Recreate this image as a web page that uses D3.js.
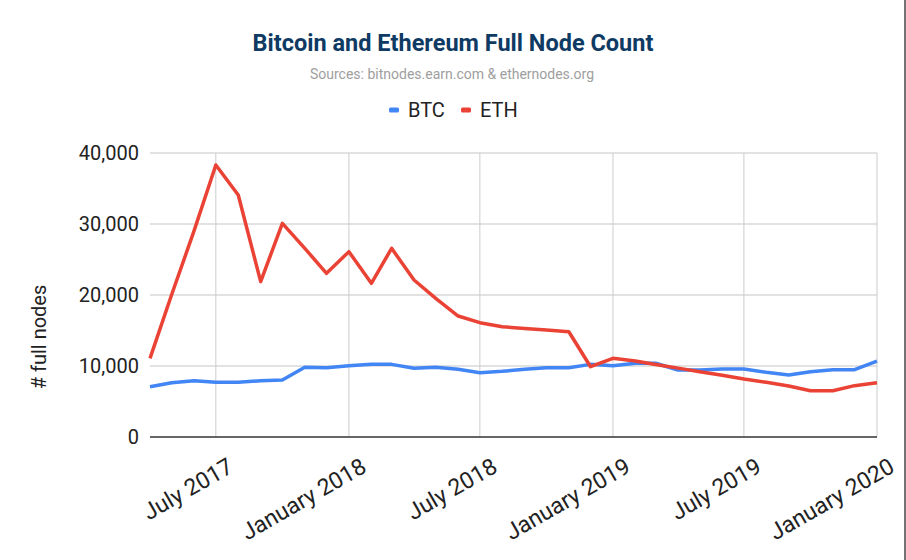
<!DOCTYPE html>
<html>
<head>
<meta charset="utf-8">
<script src="https://cdn.jsdelivr.net/npm/d3@7"></script>
<style>
  body { margin: 0; background: #fff; }
  svg { display: block; font-family: Roboto, "Liberation Sans", Arial, sans-serif; }
</style>
</head>
<body>
<script>
// Monthly snapshots, Apr 2017 - Jan 2020
const months = ["2017-04","2017-05","2017-06","2017-07","2017-08","2017-09","2017-10","2017-11","2017-12",
  "2018-01","2018-02","2018-03","2018-04","2018-05","2018-06","2018-07","2018-08","2018-09","2018-10","2018-11","2018-12",
  "2019-01","2019-02","2019-03","2019-04","2019-05","2019-06","2019-07","2019-08","2019-09","2019-10","2019-11","2019-12",
  "2020-01"];
const btc = [7080,7650,7930,7700,7700,7930,8030,9810,9760,
  10040,10230,10230,9670,9810,9530,9060,9250,9530,9760,9760,10230,
  10040,10380,10380,9440,9440,9580,9580,9110,8730,9200,9480,9480,
  10700];
const eth = [11080,20070,29060,38310,34080,21880,30090,26570,23050,
  26100,21640,26570,22110,19530,17040,16100,15540,15280,15070,14830,9900,
  11080,10700,10200,9700,9200,8700,8170,7700,7180,6520,6520,7230,
  7650];
const tickMonths = ["2017-07","2018-01","2018-07","2019-01","2019-07","2020-01"];
const tickLabels = ["July 2017","January 2018","July 2018","January 2019","July 2019","January 2020"];
const yTicks = [0,10000,20000,30000,40000];
const seriesNames = ["BTC","ETH"];
const seriesColors = ["#4285f4","#ea4335"];

const width = 906, height = 560;
const plot = {left: 150, right: 877, top: 153, bottom: 437};

const parseMonth = d3.timeParse("%Y-%m");
const dates = months.map(parseMonth);

const svg = d3.select("body").append("svg")
    .attr("width", width)
    .attr("height", height);

// Scales
const x = d3.scaleTime()
    .domain([dates[0], dates[dates.length - 1]])
    .range([plot.left, plot.right]);
const y = d3.scaleLinear()
    .domain([0, 40000])
    .range([plot.bottom, plot.top]);

// Title + subtitle
svg.append("text")
    .attr("x", 453).attr("y", 51)
    .attr("text-anchor", "middle")
    .attr("font-size", 23.5).attr("font-weight", "bold")
    .attr("fill", "#0e3a63")
    .text("Bitcoin and Ethereum Full Node Count");

svg.append("text")
    .attr("x", 452).attr("y", 79)
    .attr("text-anchor", "middle")
    .attr("font-size", 14)
    .attr("fill", "#9e9e9e")
    .text("Sources: bitnodes.earn.com & ethernodes.org");

// Legend
const legend = svg.append("g").attr("transform", "translate(389,110)");
const legendX = [0, 72];
seriesNames.forEach(function(name, i){
    const g = legend.append("g").attr("transform", "translate(" + legendX[i] + ",0)");
    g.append("rect")
        .attr("x", 0).attr("y", -2.5)
        .attr("width", 10).attr("height", 5)
        .attr("rx", 1.5)
        .attr("fill", seriesColors[i]);
    g.append("text")
        .attr("x", 19).attr("y", 7)
        .attr("font-size", 20)
        .attr("fill", "#222")
        .text(name);
});

// Horizontal gridlines
svg.append("g")
    .selectAll("line")
    .data(yTicks.slice(1))
    .enter().append("line")
    .attr("x1", plot.left).attr("x2", plot.right)
    .attr("y1", function(d){ return y(d); })
    .attr("y2", function(d){ return y(d); })
    .attr("stroke", "#d9d9d9")
    .attr("stroke-width", 1.3);

// Vertical gridlines
const tickDates = tickMonths.map(parseMonth);
svg.append("g")
    .selectAll("line")
    .data(tickDates)
    .enter().append("line")
    .attr("x1", function(d){ return x(d); })
    .attr("x2", function(d){ return x(d); })
    .attr("y1", plot.top).attr("y2", plot.bottom)
    .attr("stroke", "#cccccc")
    .attr("stroke-width", 1);

// Y axis labels
const yAxis = d3.axisLeft(y)
    .tickValues(yTicks)
    .tickFormat(d3.format(","))
    .tickSize(0)
    .tickPadding(11);
svg.append("g")
    .attr("transform", "translate(" + plot.left + ",0)")
    .call(yAxis)
    .call(function(g){ g.select(".domain").remove(); })
    .selectAll("text")
    .attr("font-size", 20)
    .attr("font-family", "Roboto, 'Liberation Sans', Arial, sans-serif")
    .attr("fill", "#222");

// X axis labels, rotated
svg.append("g")
    .selectAll("text")
    .data(tickDates)
    .enter().append("text")
    .attr("transform", function(d){ return "translate(" + (x(d) + 19) + "," + (plot.bottom + 34) + ") rotate(-30)"; })
    .attr("text-anchor", "end")
    .attr("font-size", 23)
    .attr("fill", "#222")
    .text(function(d, i){ return tickLabels[i]; });

// Y axis title
svg.append("text")
    .attr("transform", "translate(46,337) rotate(-90)")
    .attr("text-anchor", "middle")
    .attr("font-size", 20)
    .attr("fill", "#222")
    .text("# full nodes");

// Lines
const line = d3.line()
    .x(function(d, i){ return x(dates[i]); })
    .y(function(d){ return y(d); });

[btc, eth].forEach(function(series, i){
    svg.append("path")
        .datum(series)
        .attr("fill", "none")
        .attr("stroke", seriesColors[i])
        .attr("stroke-width", 3.5)
        .attr("stroke-linejoin", "round")
        .attr("d", line);
});

// Baseline
svg.append("line")
    .attr("x1", plot.left).attr("x2", plot.right)
    .attr("y1", y(0)).attr("y2", y(0))
    .attr("stroke", "#333")
    .attr("stroke-width", 1.5);

// Right edge frame
svg.append("line")
    .attr("x1", 905).attr("x2", 905)
    .attr("y1", 0).attr("y2", height)
    .attr("stroke", "#444")
    .attr("stroke-width", 1.5);
</script>
</body>
</html>
